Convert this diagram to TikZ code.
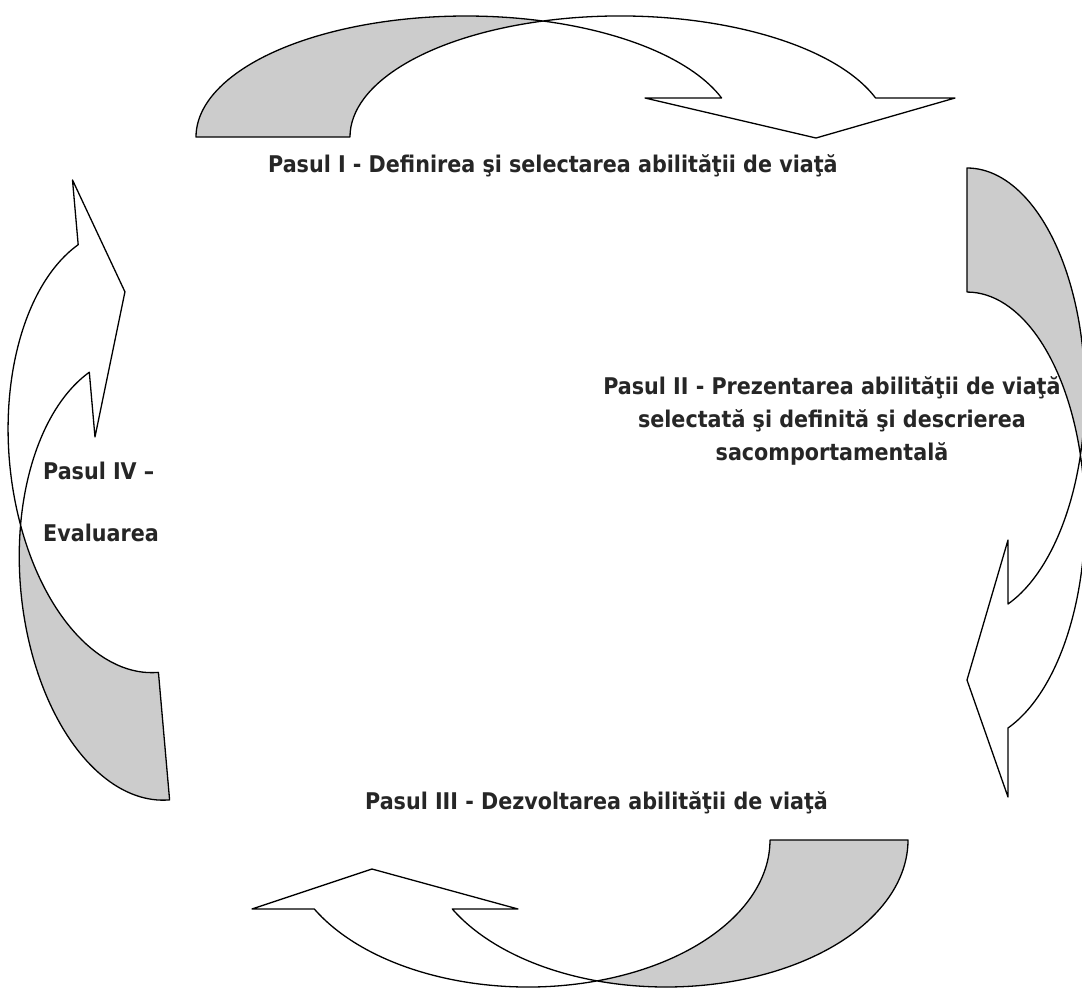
\documentclass[tikz,border=0pt]{standalone}
\usepackage{fontspec}
\setmainfont{DejaVu Sans Condensed}
\usepackage{tikz}

\definecolor{bandgray}{gray}{0.8}
\definecolor{labelgray}{gray}{0.15}

\begin{document}
\begin{tikzpicture}[x=1pt, y=-1pt, line join=round,
  back/.style={draw=black, fill=bandgray, line width=1.3pt},
  front/.style={draw=black, fill=white, line width=1.3pt},
  steplabel/.style={font=\bfseries\fontsize{23}{33}\selectfont, text=labelgray, inner sep=0pt}]
  \useasboundingbox (0,0) rectangle (1082,989);
  \clip (0,0) rectangle (1082,989);

  % Top arrow (step I)
  \draw[back] (196,137) arc[start angle=180, end angle=286.57, x radius=270, y radius=121]
    arc[start angle=253.43, end angle=180, x radius=270, y radius=121] -- cycle;
  \draw[front] (543.0,21.0) arc[start angle=253.43, end angle=341.2, x radius=270, y radius=121]
    -- (955,98) -- (816,138) -- (645,98) -- (721.6,98)
    arc[start angle=341.2, end angle=286.57, x radius=270, y radius=121] -- cycle;

  % Right arrow (step II)
  \draw[back] (967,168) arc[start angle=-90, end angle=16, x radius=118, y radius=225]
    arc[start angle=-16, end angle=-90, x radius=118, y radius=225] -- cycle;
  \draw[front] (1080.4,455) arc[start angle=-16, end angle=69.67, x radius=118, y radius=225]
    -- (1008,797) -- (967,680) -- (1008,540) -- (1008,604)
    arc[start angle=69.67, end angle=16, x radius=118, y radius=225] -- cycle;

  % Bottom arrow (step III)
  \draw[back] (908,840) arc[start angle=0, end angle=106.57, x radius=242, y radius=147]
    arc[start angle=73.43, end angle=0, x radius=242, y radius=147] -- cycle;
  \draw[front] (597.0,980.9) arc[start angle=73.43, end angle=152.0, x radius=242, y radius=147]
    -- (252,909) -- (372,869) -- (518,909) -- (452.3,909)
    arc[start angle=152.0, end angle=106.57, x radius=242, y radius=147] -- cycle;

  % Left arrow (step IV), slightly tilted
  \begin{scope}[rotate around={5:(120,490)}]
    \draw[back] (142.4,803) arc[start angle=90, end angle=196.7, x radius=130, y radius=222.7]
      arc[start angle=163.3, end angle=90, x radius=130, y radius=222.7] -- cycle;
    \draw[front] (17.9,516.3) arc[start angle=163.3, end angle=250.83, x radius=130, y radius=222.7]
      -- (99.7,177) -- (142.2,293) -- (99.7,435) -- (99.7,370.0)
      arc[start angle=250.83, end angle=196.7, x radius=130, y radius=222.7] -- cycle;
  \end{scope}

  % Labels
  \node[steplabel, anchor=base west] (pas1) at (268,172) {Pasul I - Definirea şi selectarea abilităţii de viaţă};
  \node[steplabel, align=center, anchor=base] (pas2) at (832,460)
    {Pasul II - Prezentarea abilităţii de viaţă\\selectată şi definită şi descrierea\\sacomportamentală};
  \node[steplabel, anchor=base west] (pas3) at (365,809) {Pasul III - Dezvoltarea abilităţii de viaţă};
  \node[steplabel, anchor=base west] (pas4a) at (43,479) {Pasul IV –};
  \node[steplabel, anchor=base west] (pas4b) at (43,541) {Evaluarea};
\end{tikzpicture}
\end{document}
